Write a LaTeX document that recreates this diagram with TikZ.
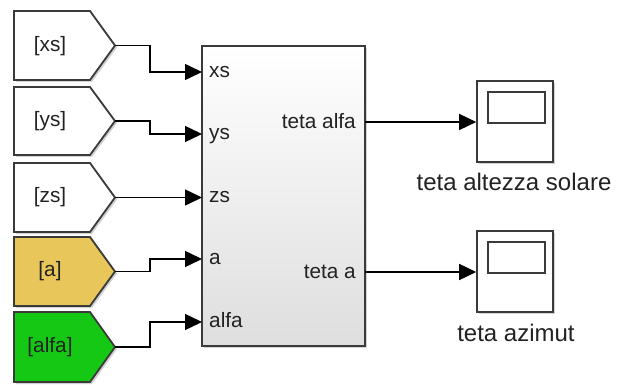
\documentclass[tikz,border=0pt]{standalone}
\usepackage{fontspec}
\setmainfont{Liberation Sans}
\usetikzlibrary{arrows.meta,shadows}
\definecolor{txt}{HTML}{222222}
\definecolor{edge}{HTML}{3A3A3A}
\definecolor{tagyellow}{HTML}{E8C65A}
\definecolor{taggreen}{HTML}{14C814}
\tikzset{
  tagshape/.style={draw=edge, line width=1.8pt, line join=miter,
    drop shadow={shadow xshift=2pt, shadow yshift=-2pt, opacity=0.35}},
  taglabel/.style={text=txt, font=\fontsize{20.8}{24}\selectfont, inner sep=0pt},
  portlabel/.style={text=txt, font=\fontsize{20.8}{24}\selectfont, inner sep=0pt},
  scopelabel/.style={text=txt, font=\fontsize{24}{28}\selectfont, inner sep=0pt, anchor=base},
  wire/.style={line width=1.5pt, draw=black},
  arrowwire/.style={wire, -{Triangle[length=17pt,width=16pt]}},
  scopebox/.style={draw=edge, line width=1.6pt, fill=white,
    drop shadow={shadow xshift=2pt, shadow yshift=-2pt, opacity=0.35}},
}
\begin{document}
\begin{tikzpicture}[x=1pt,y=-1pt]
\useasboundingbox[fill=white] (0,0) rectangle (619,385);

% goto tags
\foreach \t/\b/\c in {11/80/white, 87/155/white, 163/232/white, 237/306/tagyellow, 312/382/taggreen}{
  \path[tagshape, fill=\c] (14,\t) -- (90,\t) -- (115,{(\t+\b)/2}) -- (90,\b) -- (14,\b) -- cycle;
}
\node[taglabel] (lxs) at (50,46) {[xs]};
\node[taglabel] (lys) at (50,121) {[ys]};
\node[taglabel] (lzs) at (50,197) {[zs]};
\node[taglabel] (la) at (50,271) {[a]};
\node[taglabel] (lalfa) at (50,347) {[alfa]};
\coordinate (txs) at (115,45.5);
\coordinate (tys) at (115,121);
\coordinate (tzs) at (115,197.5);
\coordinate (ta) at (115,271.5);
\coordinate (talfa) at (115,347);

% main block
\node[draw=edge, line width=1.6pt, top color=white, bottom color=black!13,
  minimum width=163pt, minimum height=300pt, inner sep=0pt,
  drop shadow={shadow xshift=2pt, shadow yshift=-2pt, opacity=0.35}]
  (blk) at (283.5,196) {};
\coordinate (pxs) at (202,72);
\coordinate (pys) at (202,134);
\coordinate (pzs) at (202,197.5);
\coordinate (pa) at (202,259);
\coordinate (palfa) at (202,322);
\coordinate (oalfa) at (365,122);
\coordinate (oa) at (365,272);

\node[portlabel, anchor=base west] (nxs) at (209,77.5) {xs};
\node[portlabel, anchor=base west] (nys) at (209,139.5) {ys};
\node[portlabel, anchor=base west] (nzs) at (209,202.5) {zs};
\node[portlabel, anchor=base west] (na) at (209,264.5) {a};
\node[portlabel, anchor=base west] (nalfa) at (209,327.5) {alfa};
\node[portlabel, anchor=base east] (ntalfa) at (356,128.5) {teta alfa};
\node[portlabel, anchor=base east] (nta) at (356,278.5) {teta a};

% scopes
\node[scopebox, minimum width=76pt, minimum height=81pt, inner sep=0pt] (sc1) at (515,121.5) {};
\node[scopebox, minimum width=76pt, minimum height=81pt, inner sep=0pt] (sc2) at (515,271.5) {};
\draw[edge, line width=1.4pt] (488,92) rectangle (545,123);
\draw[edge, line width=1.4pt] (488,242) rectangle (545,273);
\node[scopelabel] (lsc1) at (514,191) {teta altezza solare};
\node[scopelabel] (lsc2) at (516,341) {teta azimut};

% wires
\draw[arrowwire] (txs) -- (150,45.5) |- (pxs);
\draw[arrowwire] (tys) -- (150,121) |- (pys);
\draw[arrowwire] (tzs) -- (pzs);
\draw[arrowwire] (ta) -- (150,271.5) |- (pa);
\draw[arrowwire] (talfa) -- (150,347) |- (palfa);
\draw[arrowwire] (oalfa) -- (oalfa -| sc1.west);
\draw[arrowwire] (oa) -- (oa -| sc2.west);
\end{tikzpicture}
\end{document}
